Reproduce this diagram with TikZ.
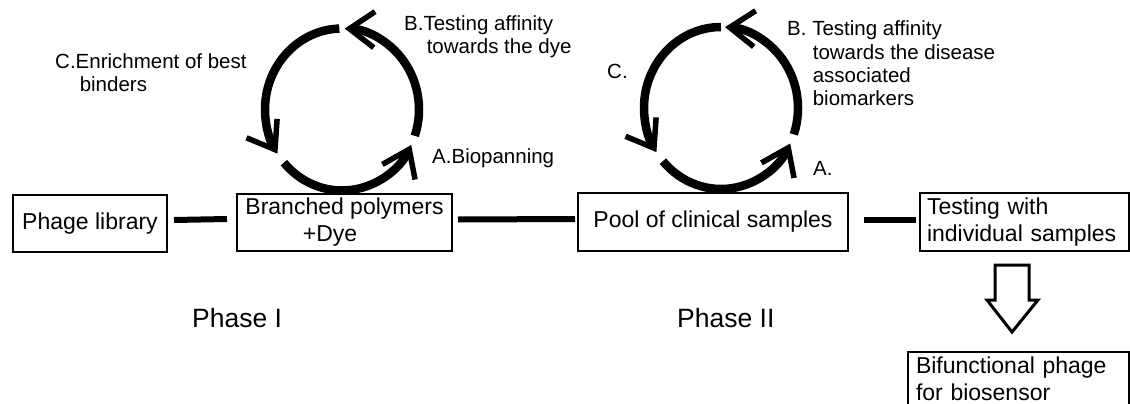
\documentclass[tikz,border=0pt]{standalone}
\usepackage{fontspec}
\setmainfont{Liberation Sans}
\usetikzlibrary{arrows.meta}

\newcommand{\boxfont}{\fontsize{23}{27}\selectfont}
\newcommand{\lblfont}{\fontsize{20.5}{23.5}\selectfont}
\newcommand{\phasefont}{\fontsize{26.5}{30}\selectfont}

\begin{document}
\begin{tikzpicture}[x=1pt, y=-1pt,
    box/.style={draw, line width=2pt, inner sep=0pt, font=\boxfont},
    link/.style={line width=6pt},
    cyc/.style={line width=8.5pt, -{Straight Barb[length=25pt, width=36pt, line width=5.5pt]}},
    lbl/.style={anchor=base west, inner sep=0pt, align=left, font=\lblfont}]
            \useasboundingbox (0,0) rectangle (1130,404);
            \node[box, minimum width=154, minimum height=57] (lib) at (90,223.5) {Phage library};
            \node[box, minimum width=215, minimum height=57, align=left] (poly) at (344.5,222.5) {Branched polymers\\\hspace*{2.5em}+Dye};
            \node[box, minimum width=270, minimum height=58] (pool) at (713,222) {Pool of clinical samples};
            \node[box, minimum width=209, minimum height=58, text width=195, align=left] (test) at (1024.5,222) {Testing with\\individual samples};
            \node[box, anchor=north west, text width=205, align=left, inner xsep=8pt, inner ysep=5pt] (bif) at (907,351) {Bifunctional phage\\for biosensor};
            \draw[link] ([xshift=6pt,yshift=3.5pt]lib.east) -- ([xshift=-9pt,yshift=3.5pt]poly.west);
            \draw[link] ([xshift=5pt,yshift=3pt]poly.east) -- ([xshift=-2pt,yshift=3pt]pool.west);
            \draw[link] ([xshift=15pt,yshift=2pt]pool.east) -- ([xshift=-3pt,yshift=2pt]test.west);
            \draw[line width=3pt, line join=miter] (995,265) -- (1029,265) -- (1029,300) -- (1038,300) -- (1012,332) -- (987,300) -- (995,300) -- cycle;
            \coordinate (cyc1) at (342,109.5);
            \draw[cyc] (cyc1) ++(19:77 and 81) arc[start angle=19, end angle=-88, x radius=77, y radius=81];
            \draw[cyc] (cyc1) ++(-92:77 and 81) arc[start angle=-92, end angle=-213, x radius=77, y radius=81];
            \draw[cyc] (cyc1) ++(-221:77 and 81) arc[start angle=-221, end angle=-334, x radius=77, y radius=81];
            \coordinate (cyc2) at (721,108);
            \draw[cyc] (cyc2) ++(19:77 and 81) arc[start angle=19, end angle=-87, x radius=77, y radius=81];
            \draw[cyc] (cyc2) ++(-90:77 and 81) arc[start angle=-90, end angle=-213, x radius=77, y radius=81];
            \draw[cyc] (cyc2) ++(-221:77 and 81) arc[start angle=-221, end angle=-334, x radius=77, y radius=81];
            \node[lbl] (labB1) at (404,54) {B.Testing affinity\\\hspace*{1.1em}towards the dye};
            \node[lbl] (labC1) at (55,92) {C.Enrichment of best\\\hspace*{1.2em}binders};
            \node[lbl] (labA1) at (432,163) {A.Biopanning};
            \node[lbl] (labB2) at (787,106) {B. Testing affinity\\\hspace*{1.25em}towards the disease\\\hspace*{1.25em}associated\\\hspace*{1.25em}biomarkers};
            \node[lbl] (labC2) at (607,78) {C.};
            \node[lbl] (labA2) at (813,175) {A.};
            \node[font=\phasefont, anchor=base west, inner sep=0pt] (ph1) at (192,327) {Phase I};
            \node[font=\phasefont, anchor=base west, inner sep=0pt] (ph2) at (677,327) {Phase II};
        \end{tikzpicture}
\end{document}
